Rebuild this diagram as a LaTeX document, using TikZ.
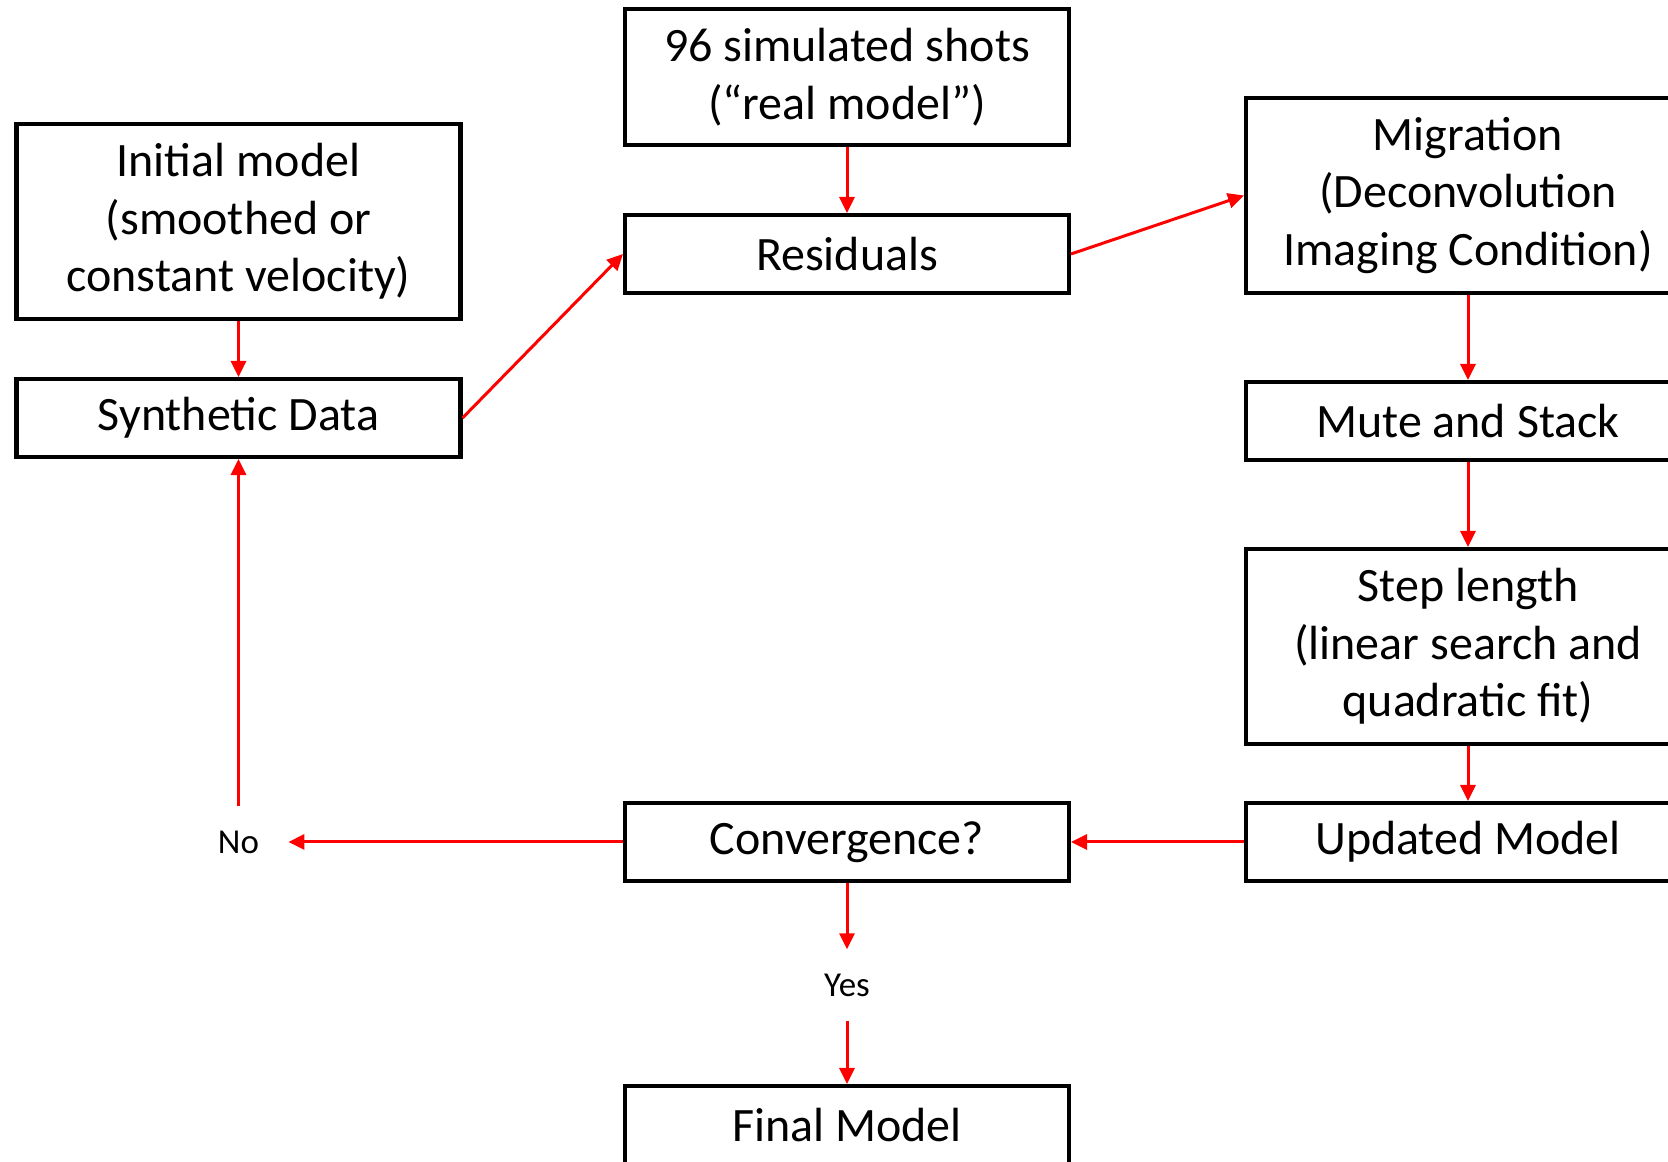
\documentclass[tikz,border=0pt]{standalone}
\usepackage{fontspec}
\setmainfont{Carlito}
\usepackage{tikz}
\usetikzlibrary{arrows.meta, positioning}

\begin{document}
\begin{tikzpicture}[
        box/.style={draw, line width=2.3pt, align=center, minimum width=8.88cm, minimum height=1.56cm, inner sep=0pt, font=\fontsize{27.3}{32.7}\selectfont},
        tallbox/.style={box, minimum height=3.9cm},
        answer/.style={inner xsep=0.58cm, inner ysep=0.48cm, font=\fontsize{19.9}{24}\selectfont},
        flow/.style={red, line width=1.7pt, -{Triangle[length=0.32cm, width=0.3cm]}}
    ]
        \useasboundingbox (0, 0) rectangle (33.36, 23.24);

        % Left column
        \node[tallbox] (init) at (4.77, 18.81) {Initial model\\(smoothed or\\constant velocity)};
        \node[box] (synth) at (4.77, 14.88) {Synthetic Data};
        \node[answer] (no) at (4.77, 6.40) {No};

        % Middle column
        \node[box, minimum height=2.72cm] (shots) at (16.94, 21.70) {96 simulated shots\\(“real model”)};
        \node[box] (resid) at (16.94, 18.16) {Residuals};
        \node[box] (conv) at (16.94, 6.40) {Convergence?};
        \node[answer] (yes) at (16.94, 3.54) {Yes};
        \node[box] (final) at (16.94, 0.74) {Final Model};

        % Right column
        \node[tallbox] (migr) at (29.36, 19.33) {Migration\\(Deconvolution\\Imaging Condition)};
        \node[box] (mute) at (29.36, 14.82) {Mute and Stack};
        \node[tallbox] (steplen) at (29.36, 10.31) {Step length\\(linear search and\\quadratic fit)};
        \node[box] (upd) at (29.36, 6.40) {Updated Model};

        % Arrows
        \draw[flow] (init) -- (synth);
        \draw[flow] (synth.east) -- (resid.west);
        \draw[flow] (shots) -- (resid);
        \draw[flow] (resid.east) -- (migr.west);
        \draw[flow] (migr) -- (mute);
        \draw[flow] (mute) -- (steplen);
        \draw[flow] (steplen) -- (upd);
        \draw[flow] (upd) -- (conv);
        \draw[flow] (conv) -- (no);
        \draw[flow] (no) -- (synth);
        \draw[flow] (conv) -- (yes);
        \draw[flow] (yes) -- (final);

\end{tikzpicture}
\end{document}
